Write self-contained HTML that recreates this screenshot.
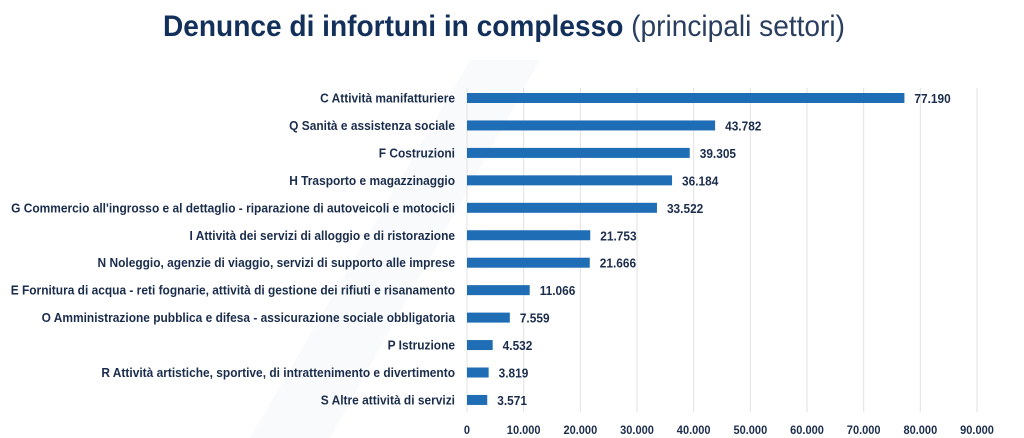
<!DOCTYPE html>
<html><head><meta charset="utf-8"><style>
html,body{margin:0;padding:0;background:#fff;}
svg{display:block;font-family:"Liberation Sans",sans-serif;}
</style></head><body>
<svg width="1024" height="438" viewBox="0 0 1024 438">
<path d="M250 438 L470 60 L540 60 L330 438 Z" fill="#f9fafb"/>
<text x="163" y="36" font-size="30" fill="#13305b" textLength="682" lengthAdjust="spacingAndGlyphs"><tspan font-weight="bold">Denunce di infortuni in complesso</tspan><tspan font-weight="normal" fill="#2a3f5f"> (principali settori)</tspan></text>
<g id="grid"></g><g id="bars"></g><g id="labels"></g><g id="ticks"></g>
</svg>
<script>
const categories=["C Attività manifatturiere","Q Sanità e assistenza sociale","F Costruzioni","H Trasporto e magazzinaggio","G Commercio all'ingrosso e al dettaglio - riparazione di autoveicoli e motocicli","I Attività dei servizi di alloggio e di ristorazione","N Noleggio, agenzie di viaggio, servizi di supporto alle imprese","E Fornitura di acqua - reti fognarie, attività di gestione dei rifiuti e risanamento","O Amministrazione pubblica e difesa - assicurazione sociale obbligatoria","P Istruzione","R Attività artistiche, sportive, di intrattenimento e divertimento","S Altre attività di servizi"];
const values=[77190,43782,39305,36184,33522,21753,21666,11066,7559,4532,3819,3571];
const valueLabels=["77.190","43.782","39.305","36.184","33.522","21.753","21.666","11.066","7.559","4.532","3.819","3.571"];
const tickValues=[0,10000,20000,30000,40000,50000,60000,70000,80000,90000];
const tickLabels=["0","10.000","20.000","30.000","40.000","50.000","60.000","70.000","80.000","90.000"];
const NS="http://www.w3.org/2000/svg";
const x0=467,x1=977,maxV=90000;
const xs=v=>x0+(v/maxV)*(x1-x0);
const yTop=98,step=27.45;
const ys=i=>yTop+i*step;
function mk(tag,attrs,parent){const e=document.createElementNS(NS,tag);for(const k in attrs)e.setAttribute(k,attrs[k]);document.getElementById(parent).appendChild(e);return e;}
tickValues.forEach((t,i)=>{
  const l=mk('line',{x1:xs(t),x2:xs(t),y1:88,y2:412,stroke:'#e2e2e2','stroke-width':1},'grid');
  
  
  const tx=mk('text',{x:0,y:0,'text-anchor':'middle','font-size':12,'font-weight':'bold',fill:'#1b2d4d',transform:`translate(${xs(t)},434) scale(0.92,1)`},'ticks');
  tx.textContent=tickLabels[i];
  
  
});
values.forEach((v,i)=>{
  const y=ys(i);
  const r=mk('rect',{x:x0,y:y-5,width:xs(v)-x0,height:10,fill:'#1f6db5'},'bars');
  
  
  const vl=mk('text',{x:0,y:0,'font-size':12.5,'font-weight':'bold',fill:'#1b2d4d',transform:`translate(${xs(v)+10},${y+5}) scale(0.95,1)`},'labels');
  vl.textContent=valueLabels[i];
  
  
  const cl=mk('text',{x:0,y:0,'text-anchor':'end','font-size':12.5,'font-weight':'bold',fill:'#1b2d4d',transform:`translate(455,${y+4.5}) scale(0.955,1)`},'labels');
  cl.textContent=categories[i];
  
  
});
</script>
</body></html>
